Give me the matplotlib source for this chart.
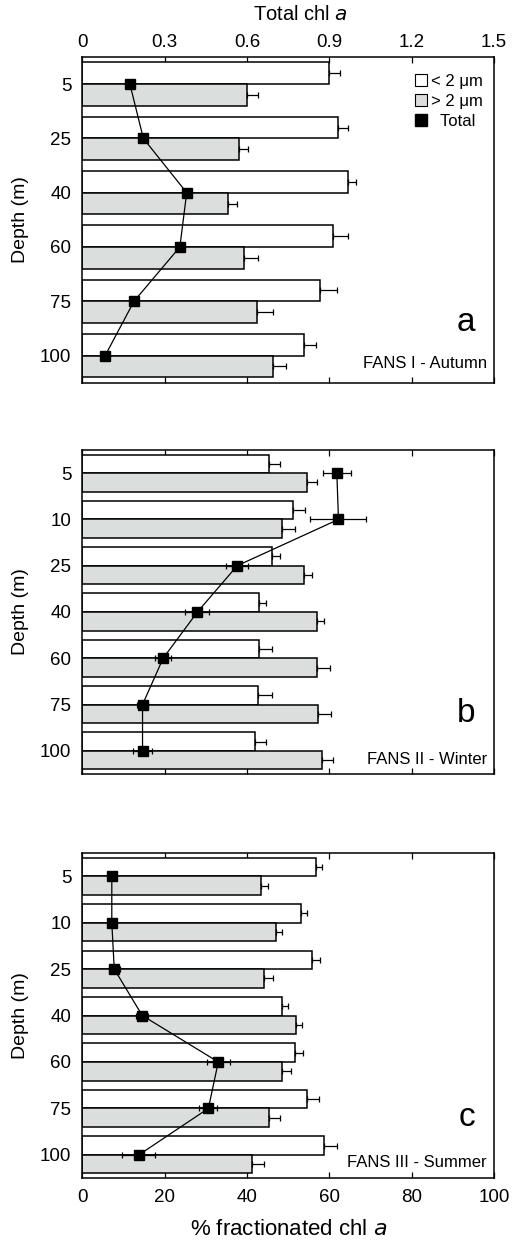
import matplotlib
matplotlib.use("Agg")
import matplotlib.pyplot as plt
import numpy as np
from matplotlib.patches import Patch
from matplotlib.lines import Line2D

plt.rcParams["font.family"] = ["Liberation Sans", "DejaVu Sans"]

# panel a - FANS I (Autumn)
depth_a = ["5", "25", "40", "60", "75", "100"]
small_a = [60.0, 62.0, 64.4, 60.8, 57.8, 53.8]
small_a_err = [2.6, 2.4, 2.1, 3.6, 4.0, 2.9]
large_a = [40.0, 38.0, 35.4, 39.3, 42.3, 46.4]
large_a_err = [2.6, 2.3, 2.2, 3.4, 4.0, 3.1]
total_a = [0.173, 0.222, 0.380, 0.355, 0.188, 0.083]
total_a_err = [0.0, 0.0, 0.015, 0.009, 0.0, 0.0]

# panel b - FANS II (Winter)
depth_b = ["5", "10", "25", "40", "60", "75", "100"]
small_b = [45.4, 51.2, 46.1, 42.8, 42.8, 42.7, 41.8]
small_b_err = [2.6, 2.9, 1.9, 1.7, 3.2, 3.3, 2.7]
large_b = [54.5, 48.6, 53.8, 57.1, 57.1, 57.3, 58.1]
large_b_err = [2.6, 3.0, 2.0, 1.6, 3.0, 3.1, 2.7]
total_b = [0.927, 0.933, 0.564, 0.419, 0.294, 0.219, 0.219]
total_b_err = [0.050, 0.102, 0.041, 0.044, 0.028, 0.021, 0.033]

# panel c - FANS III (Summer)
depth_c = ["5", "10", "25", "40", "60", "75", "100"]
small_c = [56.7, 53.0, 55.7, 48.4, 51.6, 54.6, 58.8]
small_c_err = [1.4, 1.5, 2.0, 1.6, 1.9, 2.9, 3.1]
large_c = [43.5, 47.0, 44.2, 51.8, 48.4, 45.3, 41.3]
large_c_err = [1.7, 1.6, 2.2, 1.6, 2.2, 2.7, 2.9]
total_c = [0.107, 0.107, 0.116, 0.218, 0.495, 0.459, 0.206]
total_c_err = [0.0, 0.0, 0.021, 0.021, 0.041, 0.033, 0.060]

GRAY = "#dcdedd"
BAR_H = 0.4


def draw_panel(ax, depths, small, small_err, large, large_err, total, total_err,
               letter, title, title_y):
    n = len(depths)
    y = np.arange(n)
    zeros = np.zeros(n)
    ax.barh(y - BAR_H / 2, small, height=BAR_H, color="white", edgecolor="black",
            linewidth=1.1, zorder=2)
    ax.errorbar(small, y - BAR_H / 2, xerr=[zeros, small_err], fmt="none",
                ecolor="black", elinewidth=0.9, capsize=2.5, capthick=0.9, zorder=3)
    ax.barh(y + BAR_H / 2, large, height=BAR_H, color=GRAY, edgecolor="black",
            linewidth=1.1, zorder=2)
    ax.errorbar(large, y + BAR_H / 2, xerr=[zeros, large_err], fmt="none",
                ecolor="black", elinewidth=0.9, capsize=2.5, capthick=0.9, zorder=3)

    # total chl a is on a 0-1.5 scale drawn over the 0-100 % axis
    tot_pct = np.array(total) / 1.5 * 100
    tot_err = np.array(total_err) / 1.5 * 100
    ax.errorbar(tot_pct, y, xerr=tot_err, fmt="s-", color="black", ms=6.5,
                lw=0.9, elinewidth=0.9, capsize=2.5, capthick=0.9, zorder=4)

    ax.set_xlim(0, 100)
    ax.set_ylim(n - 0.5, -0.5)
    ax.set_yticks(y)
    ax.set_yticklabels(depths, fontsize=13.5)
    ax.tick_params(axis="y", length=0, pad=8)
    ax.set_xticks([0, 20, 40, 60, 80, 100])
    ax.tick_params(axis="x", direction="in", length=4, width=0.9,
                   top=True, bottom=True, labelbottom=False, labeltop=False)
    ax.set_ylabel("Depth (m)", fontsize=14, labelpad=8)
    for s in ax.spines.values():
        s.set_linewidth(1.1)

    ax.text(0.954, 0.16, letter, transform=ax.transAxes, ha="right",
            va="baseline", fontsize=24)
    ax.text(0.983, title_y, title, transform=ax.transAxes, ha="right",
            va="baseline", fontsize=12)


fig = plt.figure(figsize=(5.12, 12.42), dpi=100)
ax_a = fig.add_axes([0.161, 0.6919, 0.804, 0.2622])
ax_b = fig.add_axes([0.161, 0.3768, 0.804, 0.2609])
ax_c = fig.add_axes([0.161, 0.0515, 0.804, 0.2617])

draw_panel(ax_a, depth_a, small_a, small_a_err, large_a, large_a_err,
           total_a, total_a_err, "a", "FANS I - Autumn", 0.046)
draw_panel(ax_b, depth_b, small_b, small_b_err, large_b, large_b_err,
           total_b, total_b_err, "b", "FANS II - Winter", 0.03)
draw_panel(ax_c, depth_c, small_c, small_c_err, large_c, large_c_err,
           total_c, total_c_err, "c", "FANS III - Summer", 0.034)

# top axis of panel a: total chl a
ax_a.tick_params(axis="x", labeltop=True, labelsize=13.5, pad=4)
ax_a.set_xticklabels(["0", "0.3", "0.6", "0.9", "1.2", "1.5"])
ax_a.set_xlabel("Total chl $\\it{a}$", fontsize=14.5)
ax_a.xaxis.set_label_position("top")
ax_a.xaxis.set_label_coords(0.53, 1.115)

# bottom axis of panel c
ax_c.tick_params(axis="x", labelbottom=True, labelsize=13.5, pad=8)
ax_c.set_xlabel("% fractionated chl $\\it{a}$", fontsize=16, labelpad=9)

handles = [
    Patch(facecolor="white", edgecolor="black", linewidth=0.8, label="< 2 \u03bcm"),
    Patch(facecolor=GRAY, edgecolor="black", linewidth=0.8, label="> 2 \u03bcm"),
    Line2D([], [], marker="s", color="black", ls="none", ms=8, label="  Total"),
]
ax_a.legend(handles=handles, loc="upper right", frameon=False, fontsize=12,
            handlelength=0.75, handleheight=0.75, handletextpad=0.2,
            labelspacing=0.3, borderaxespad=0.3, bbox_to_anchor=(1.0, 0.985))

fig.savefig("out.png", dpi=100)
